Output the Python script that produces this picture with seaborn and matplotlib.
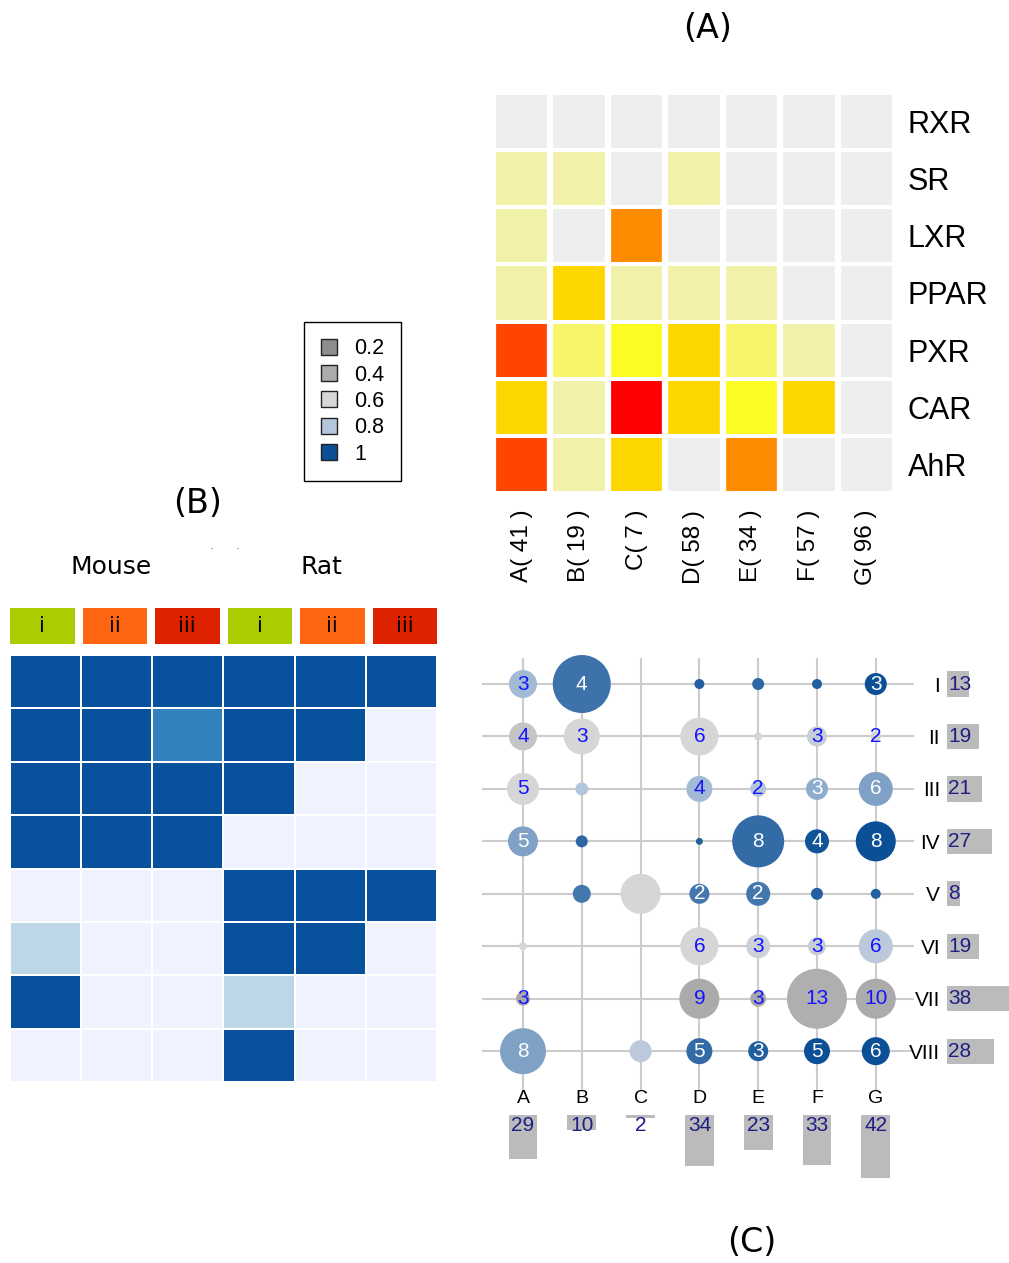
import numpy as np
import pandas as pd
import matplotlib
matplotlib.use("Agg")
import matplotlib.pyplot as plt
import seaborn as sns
from matplotlib.colors import ListedColormap, LinearSegmentedColormap
from matplotlib.lines import Line2D

# ---------------- Panel A: receptor activity per cluster ----------------
a_clusters = ["A", "B", "C", "D", "E", "F", "G"]
a_cluster_sizes = [41, 19, 7, 58, 34, 57, 96]
a_receptors = ["RXR", "SR", "LXR", "PPAR", "PXR", "CAR", "AhR"]
# activity level per receptor (rows) and cluster (columns), 0 = none
a_levels = [
    [0, 0, 0, 0, 0, 0, 0],
    [1, 1, 0, 1, 0, 0, 0],
    [1, 0, 5, 0, 0, 0, 0],
    [1, 4, 1, 1, 1, 0, 0],
    [6, 2, 3, 4, 2, 1, 0],
    [4, 1, 7, 4, 3, 4, 0],
    [6, 1, 4, 0, 5, 0, 0],
]

# ---------------- Panel B: species x dose response profiles ----------------
b_species = ["Mouse", "Rat"]
b_doses = ["i", "ii", "iii", "i", "ii", "iii"]
b_dose_index = [0, 1, 2, 0, 1, 2]
b_levels = [
    [4, 4, 4, 4, 4, 4],
    [4, 4, 3, 4, 4, 0],
    [4, 4, 4, 4, 0, 0],
    [4, 4, 4, 0, 0, 0],
    [0, 0, 0, 4, 4, 4],
    [1, 0, 0, 4, 4, 0],
    [4, 0, 0, 1, 0, 0],
    [0, 0, 0, 4, 0, 0],
]

# ---------------- Panel C: profile (rows) x cluster (columns) overlap ----------------
c_cols = ["A", "B", "C", "D", "E", "F", "G"]
c_rows = ["I", "II", "III", "IV", "V", "VI", "VII", "VIII"]
c_row_totals = [13, 19, 21, 27, 8, 19, 38, 28]
c_col_totals = [29, 10, 2, 34, 23, 33, 42]
c_row = [0, 0, 0, 0, 0, 0,
         1, 1, 1, 1, 1, 1,
         2, 2, 2, 2, 2, 2,
         3, 3, 3, 3, 3, 3,
         4, 4, 4, 4, 4, 4,
         5, 5, 5, 5, 5,
         6, 6, 6, 6, 6,
         7, 7, 7, 7, 7, 7]
c_col = [0, 1, 3, 4, 5, 6,
         0, 1, 3, 4, 5, 6,
         0, 1, 3, 4, 5, 6,
         0, 1, 3, 4, 5, 6,
         1, 2, 3, 4, 5, 6,
         0, 3, 4, 5, 6,
         0, 3, 4, 5, 6,
         0, 2, 3, 4, 5, 6]
c_count = [3, 4, 1, 1, 1, 3,
           4, 3, 6, 1, 3, 2,
           5, 1, 4, 2, 3, 6,
           5, 1, 1, 8, 4, 8,
           1, 1, 2, 2, 1, 1,
           1, 6, 3, 3, 6,
           3, 9, 3, 13, 10,
           8, 1, 5, 3, 5, 6]
c_score = [0.82, 0.94, 0.97, 0.96, 0.97, 1.00,
           0.52, 0.60, 0.60, 0.60, 0.70, 0.62,
           0.60, 0.80, 0.82, 0.80, 0.84, 0.86,
           0.86, 0.96, 0.97, 0.95, 0.99, 1.00,
           0.93, 0.60, 0.93, 0.93, 0.97, 0.97,
           0.60, 0.60, 0.65, 0.70, 0.76,
           0.38, 0.40, 0.38, 0.42, 0.40,
           0.86, 0.76, 0.95, 0.97, 1.00, 1.00]
c_weight = [196, 841, 25, 36, 25, 121,
            196, 324, 361, 16, 100, 25,
            256, 42, 169, 64, 121, 289,
            225, 36, 12, 676, 144, 400,
            81, 400, 100, 144, 36, 25,
            16, 361, 144, 81, 289,
            49, 400, 64, 900, 400,
            529, 121, 169, 100, 169, 196]
legend_levels = [0.2, 0.4, 0.6, 0.8, 1.0]
legend_labels = ["0.2", "0.4", "0.6", "0.8", "1"]

# ---------------- styling ----------------
sns.set_style("white")
plt.rcParams["font.family"] = ["DejaVu Sans"]
for key in ("text.color", "axes.labelcolor", "xtick.color", "ytick.color"):
    plt.rcParams[key] = "black"
ARIAL = "Liberation Sans"

a_cmap = ListedColormap(["#EEEEEE", "#F2F1AA", "#F7F56A", "#FCFC22",
                         "#FFD700", "#FF8C00", "#FF4500", "#FF0000"])
b_cmap = ListedColormap(["#EFF3FF", "#BDD7E7", "#6BAED6", "#3182BD", "#08519C"])
dose_cmap = ListedColormap(["#AACC00", "#FF6611", "#DD2200"])
bubble_cmap = LinearSegmentedColormap.from_list(
    "coverage",
    [(0.0, "#707070"), (0.2, "#8E8E8E"), (0.4, "#ABABAB"), (0.6, "#D6D6D6"),
     (0.8, "#B4C6DC"), (1.0, "#0B4F96")])
BAR_GREY = "#BBBBBB"
NAVY = "#1E1E84"
LABEL_BLUE = "#1414FF"
GRID_GREY = "#CCCCCC"

W, H = 1009, 1263
fig = plt.figure(figsize=(W / 100, H / 100), dpi=100)


def px_axes(x0, y0, x1, y1):
    return fig.add_axes([x0 / W, 1 - y1 / H, (x1 - x0) / W, (y1 - y0) / H])


# ---------------- Panel A ----------------
axA = px_axes(493, 93, 895, 493)
a_df = pd.DataFrame(a_levels, index=a_receptors,
                    columns=[f"{c}( {n} )" for c, n in zip(a_clusters, a_cluster_sizes)])
sns.heatmap(a_df, cmap=a_cmap, vmin=-0.5, vmax=7.5, cbar=False,
            linewidths=1.5, linecolor="white", ax=axA)
for i in range(len(a_clusters) + 1):
    axA.axvline(i, color="white", lw=4.5)
axA.yaxis.tick_right()
axA.tick_params(axis="both", length=0)
axA.tick_params(axis="y", pad=9)
axA.tick_params(axis="x", pad=12)
axA.set_yticklabels(a_receptors, rotation=0, fontsize=22, family=ARIAL)
axA.set_xticklabels(a_df.columns, rotation=90, fontsize=17.5, family=ARIAL)
axA.set_xlabel("")
axA.set_ylabel("")
fig.text(708 / W, 1 - 28 / H, "(A)", fontsize=24, ha="center", va="center")

# ---------------- Panel B ----------------
axH = px_axes(6, 604, 441, 648)
sns.heatmap([b_dose_index], cmap=dose_cmap, vmin=-0.5, vmax=2.5, cbar=False,
            annot=np.array([b_doses]), fmt="", annot_kws=dict(fontsize=15, color="black"),
            linewidths=5.5, linecolor="white", xticklabels=False, yticklabels=False, ax=axH)

axB = px_axes(10, 655, 437, 1082)
sns.heatmap(b_levels, cmap=b_cmap, vmin=-0.5, vmax=4.5, cbar=False,
            linewidths=1.2, linecolor="white", xticklabels=False, yticklabels=False, ax=axB)

fig.text(198 / W, 1 - 503 / H, "(B)", fontsize=24, ha="center", va="center")
fig.text(111 / W, 1 - 567 / H, b_species[0], fontsize=18, ha="center", va="center")
fig.text(321 / W, 1 - 567 / H, b_species[1], fontsize=18, ha="center", va="center")
fig.text(212 / W, 1 - 546 / H, ".", fontsize=8, color="#555555", ha="center", va="center")
fig.text(238 / W, 1 - 546 / H, ".", fontsize=8, color="#555555", ha="center", va="center")

# ---------------- Panel C ----------------
XLIM = (-0.697, 6.65)
YLIM = (7.74, -0.496)

axC = px_axes(482, 658, 914, 1090)
c_df = pd.DataFrame(dict(row=c_row, col=c_col, count=c_count,
                         score=c_score, weight=c_weight))
axC.set_xticks(range(len(c_cols)))
axC.set_yticks(range(len(c_rows)))
axC.grid(True, color=GRID_GREY, lw=1.5)
axC.set_axisbelow(True)
sns.scatterplot(data=c_df, x="col", y="row", size="weight",
                sizes=(0, 2.0736 * 900), size_norm=(0, 900),
                hue="score", palette=bubble_cmap, hue_norm=(0, 1),
                linewidth=0, legend=False, zorder=3, clip_on=False, ax=axC)
for _, r in c_df.iterrows():
    if r["count"] > 1:
        axC.text(r["col"], r["row"], str(int(r["count"])), ha="center", va="center",
                 fontsize=15, family=ARIAL, zorder=4,
                 color="white" if r["score"] >= 0.83 else LABEL_BLUE)
axC.set_xlim(*XLIM)
axC.set_ylim(*YLIM)
axC.tick_params(length=0, labelbottom=False, labelleft=False)
axC.set_xlabel("")
axC.set_ylabel("")
for s in axC.spines.values():
    s.set_visible(False)

# row totals on the right
axR = px_axes(947, 658, 1015, 1090)
sns.barplot(x=c_row_totals, y=c_rows, orient="h", color=BAR_GREY,
            width=0.48, linewidth=0, saturation=1, ax=axR)
axR.set_xlim(0, 68 / 1.67)
axR.set_ylim(*YLIM)
axR.tick_params(length=0, pad=5, labelbottom=False)
axR.set_yticks(range(len(c_rows)))
axR.set_yticklabels(c_rows, fontsize=15, family=ARIAL)
axR.set_xlabel("")
axR.set_ylabel("")
for s in axR.spines.values():
    s.set_visible(False)
for i, v in enumerate(c_row_totals):
    axR.text(0.6, i, str(v), ha="left", va="center", color=NAVY,
             fontsize=15, family=ARIAL)

# column totals below
axBt = px_axes(482, 1115, 914, 1190)
sns.barplot(x=c_cols, y=c_col_totals, color=BAR_GREY, width=0.49,
            linewidth=0, saturation=1, ax=axBt)
axBt.set_xlim(*XLIM)
axBt.set_ylim(75 / 1.5, 0)
axBt.xaxis.tick_top()
axBt.tick_params(length=0, pad=6, labelleft=False)
axBt.set_xticks(range(len(c_cols)))
axBt.set_xticklabels(c_cols, fontsize=14, family=ARIAL)
axBt.set_xlabel("")
axBt.set_ylabel("")
for s in axBt.spines.values():
    s.set_visible(False)
for i, v in enumerate(c_col_totals):
    axBt.text(i, 7.2, str(v), ha="center", va="center", color=NAVY,
              fontsize=15, family=ARIAL)

fig.text(752 / W, 1 - 1243 / H, "(C)", fontsize=24, ha="center", va="center")

# colour key for the bubbles
handles = [Line2D([], [], marker="s", linestyle="", markersize=12,
                  markerfacecolor=bubble_cmap(v), markeredgecolor="#222222",
                  markeredgewidth=1.0) for v in legend_levels]
leg = fig.legend(handles, legend_labels, loc="upper left",
                 bbox_to_anchor=(304 / W, 1 - 322 / H), bbox_transform=fig.transFigure,
                 borderaxespad=0, frameon=True, fancybox=False, edgecolor="black",
                 framealpha=1, prop=dict(family=ARIAL, size=15.5),
                 handlelength=0.8, handletextpad=0.8, borderpad=0.75, labelspacing=0.25)
leg.get_frame().set_linewidth(1.0)

fig.savefig("out.png", dpi=100)
